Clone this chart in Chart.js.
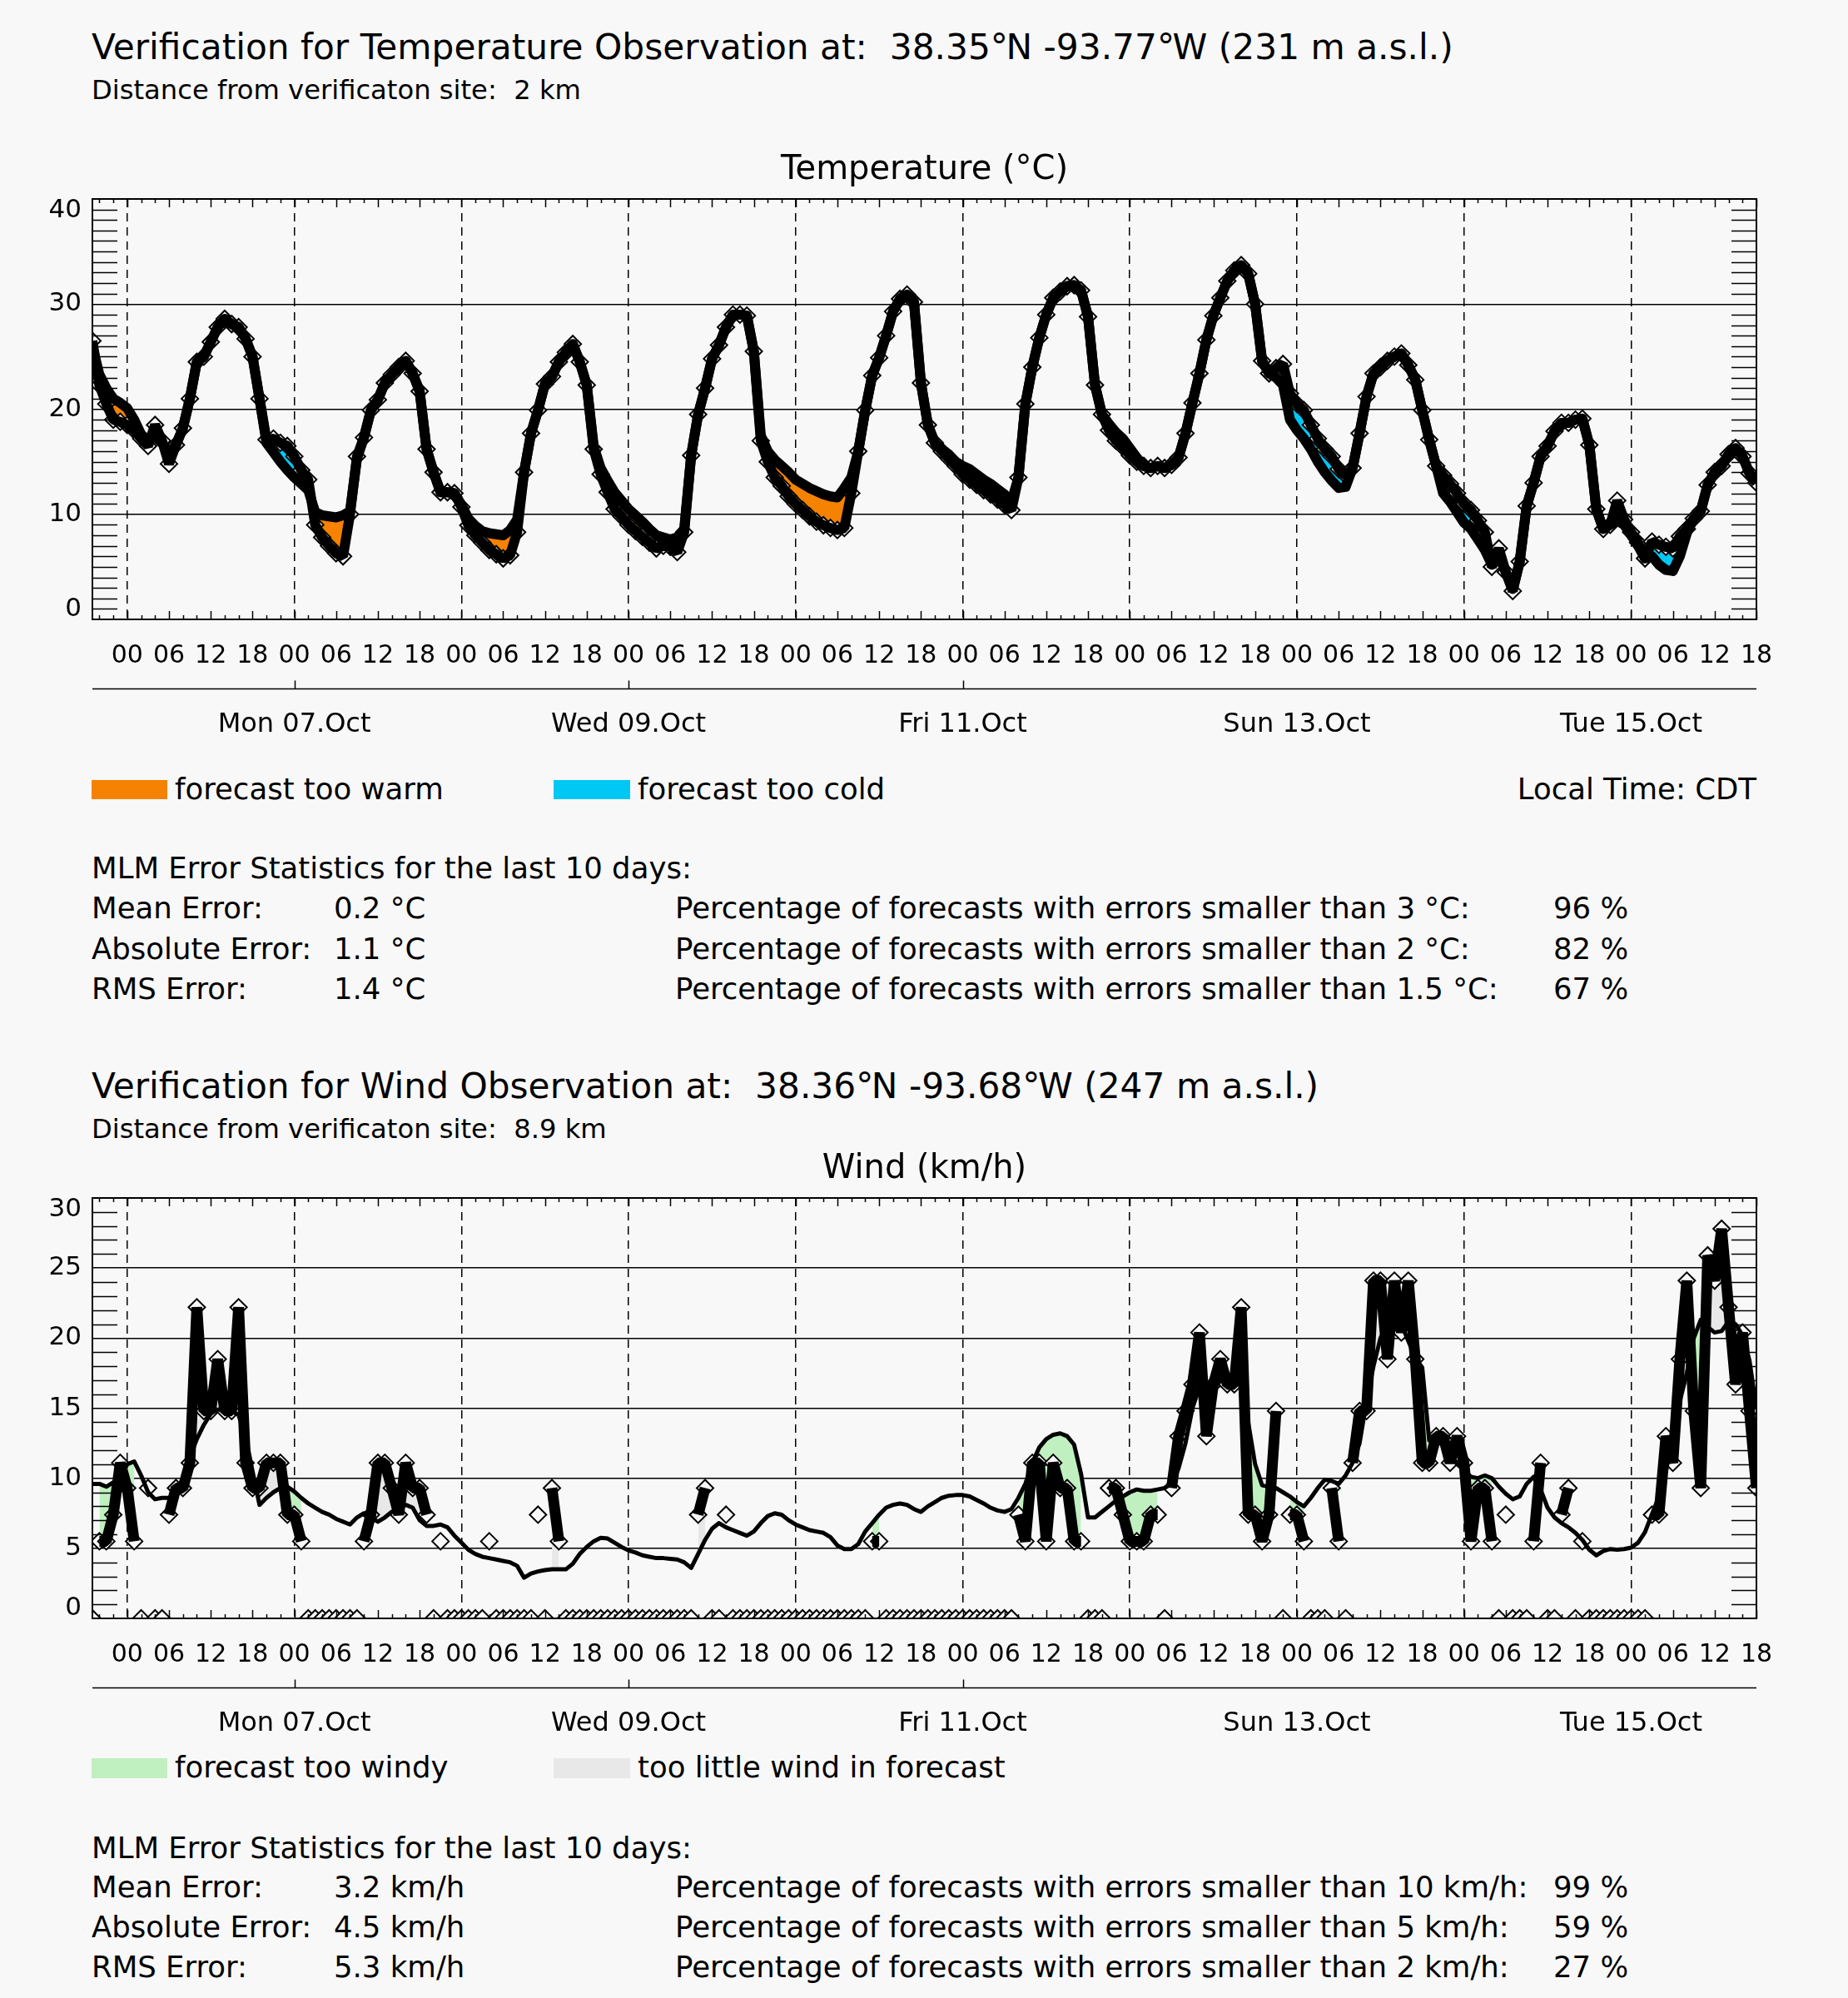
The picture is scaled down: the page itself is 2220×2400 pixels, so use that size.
<!DOCTYPE html>
<html>
<head>
<meta charset="utf-8">
<script src="https://cdn.jsdelivr.net/npm/chart.js@4.4.1/dist/chart.umd.min.js"></script>
<style>
  html, body { margin: 0; padding: 0; background: #f8f8f8; }
  body { width: 2220px; height: 2400px; position: relative; overflow: hidden;
         font-family: 'DejaVu Sans', sans-serif; color: #000; }
  .t { position: absolute; white-space: pre; line-height: 1; }
  .sw { position: absolute; }
  .deg { letter-spacing: -2.5px; }
  canvas { position: absolute; left: 0; }
</style>
</head>
<body>

<div class="t" style="left:110px;top:36px;font-size:42.3px">Verification for Temperature Observation at:  38.35<span class="deg">°</span>N -93.77<span class="deg">°</span>W (231 m a.s.l.)</div>
<div class="t" style="left:110px;top:92px;font-size:32.2px">Distance from verificaton site:  2 km</div>

<canvas id="tempChart" width="2220" height="720" style="top:180px;width:2220px;height:720px"></canvas>

<div class="sw" style="left:110px;top:937px;width:91px;height:23px;background:#f58200"></div>
<div class="t" style="left:210px;top:930px;font-size:35.5px">forecast too warm</div>
<div class="sw" style="left:665px;top:937px;width:92px;height:23px;background:#00c8f5"></div>
<div class="t" style="left:766px;top:930px;font-size:35.5px">forecast too cold</div>
<div class="t" style="right:110px;top:930px;font-size:35.5px">Local Time: CDT</div>

<div class="t" style="left:110px;top:1025px;font-size:35.5px">MLM Error Statistics for the last 10 days:</div>
<div class="t" style="left:110px;top:1073px;font-size:35.5px">Mean Error:</div>
<div class="t" style="left:401px;top:1073px;font-size:35.5px">0.2 °C</div>
<div class="t" style="left:811px;top:1073px;font-size:35.5px">Percentage of forecasts with errors smaller than 3 °C:</div>
<div class="t" style="left:1866px;top:1073px;font-size:35.5px">96 %</div>
<div class="t" style="left:110px;top:1122px;font-size:35.5px">Absolute Error:</div>
<div class="t" style="left:401px;top:1122px;font-size:35.5px">1.1 °C</div>
<div class="t" style="left:811px;top:1122px;font-size:35.5px">Percentage of forecasts with errors smaller than 2 °C:</div>
<div class="t" style="left:1866px;top:1122px;font-size:35.5px">82 %</div>
<div class="t" style="left:110px;top:1170px;font-size:35.5px">RMS Error:</div>
<div class="t" style="left:401px;top:1170px;font-size:35.5px">1.4 °C</div>
<div class="t" style="left:811px;top:1170px;font-size:35.5px">Percentage of forecasts with errors smaller than 1.5 °C:</div>
<div class="t" style="left:1866px;top:1170px;font-size:35.5px">67 %</div>

<div class="t" style="left:110px;top:1284px;font-size:42.3px">Verification for Wind Observation at:  38.36<span class="deg">°</span>N -93.68<span class="deg">°</span>W (247 m a.s.l.)</div>
<div class="t" style="left:110px;top:1340px;font-size:32.2px">Distance from verificaton site:  8.9 km</div>

<canvas id="windChart" width="2220" height="720" style="top:1380px;width:2220px;height:720px"></canvas>

<div class="sw" style="left:110px;top:2112px;width:91px;height:24px;background:#c0f0c0"></div>
<div class="t" style="left:210px;top:2105px;font-size:35.5px">forecast too windy</div>
<div class="sw" style="left:665px;top:2112px;width:92px;height:24px;background:#e8e8e8"></div>
<div class="t" style="left:766px;top:2105px;font-size:35.5px">too little wind in forecast</div>

<div class="t" style="left:110px;top:2202px;font-size:35.5px">MLM Error Statistics for the last 10 days:</div>
<div class="t" style="left:110px;top:2249px;font-size:35.5px">Mean Error:</div>
<div class="t" style="left:401px;top:2249px;font-size:35.5px">3.2 km/h</div>
<div class="t" style="left:811px;top:2249px;font-size:35.5px">Percentage of forecasts with errors smaller than 10 km/h:</div>
<div class="t" style="left:1866px;top:2249px;font-size:35.5px">99 %</div>
<div class="t" style="left:110px;top:2297px;font-size:35.5px">Absolute Error:</div>
<div class="t" style="left:401px;top:2297px;font-size:35.5px">4.5 km/h</div>
<div class="t" style="left:811px;top:2297px;font-size:35.5px">Percentage of forecasts with errors smaller than 5 km/h:</div>
<div class="t" style="left:1866px;top:2297px;font-size:35.5px">59 %</div>
<div class="t" style="left:110px;top:2345px;font-size:35.5px">RMS Error:</div>
<div class="t" style="left:401px;top:2345px;font-size:35.5px">5.3 km/h</div>
<div class="t" style="left:811px;top:2345px;font-size:35.5px">Percentage of forecasts with errors smaller than 2 km/h:</div>
<div class="t" style="left:1866px;top:2345px;font-size:35.5px">27 %</div>

<script>
// hours relative to Sun 06.Oct 00:00 local time, one value per hour from 19:00 on the 5th
const hours = Array.from({ length: 240 }, (_, i) => i - 5);

const hourTicks = [0, 6, 12, 18, 24, 30, 36, 42, 48, 54, 60, 66, 72, 78, 84, 90, 96, 102, 108, 114,
  120, 126, 132, 138, 144, 150, 156, 162, 168, 174, 180, 186, 192, 198, 204, 210, 216, 222, 228, 234];
const dayLabels = ['Mon 07.Oct', 'Wed 09.Oct', 'Fri 11.Oct', 'Sun 13.Oct', 'Tue 15.Oct'];
const dayLabelHours = [24, 72, 120, 168, 216];
const dayTickHours = [24, 72, 120];

// TEMPERATURE (°C)
const tempObs = [
  26.5, 22.3, 20.5, 19.0, 18.8,
  18.5, 18.0, 17.2, 16.5, 18.5, 17.0, 14.8, 16.6, 18.2, 21.0, 24.5, 25.0, 26.4, 27.8, 28.6, 28.1, 27.8, 26.7, 25.0, 21.0, 17.1, 17.2, 16.8, 16.5,
  15.5, 14.2, 13.3, 9.0, 7.8, 7.0, 6.3, 6.0, 10.0, 15.5, 17.3, 19.9, 20.9, 22.5, 23.3, 24.0, 24.6, 23.4, 21.7, 16.2, 14.0, 12.1, 12.1, 12.0,
  10.7, 8.95, 8.0, 7.3, 6.6, 6.2, 5.8, 6.1, 8.3, 14.0, 17.7, 19.9, 22.4, 23.1, 24.5, 25.4, 26.2, 24.5, 22.3, 16.2, 13.8, 12.1, 10.5, 9.8,
  9.0, 8.4, 7.85, 7.3, 6.75, 7.0, 6.9, 6.4, 8.3, 15.6, 19.5, 22.0, 24.8, 26.1, 27.8, 29.0, 29.0, 28.9, 25.5, 17.0, 15.0, 13.5, 12.7, 11.7,
  11.0, 10.4, 9.8, 9.3, 8.95, 8.7, 8.5, 8.7, 12.0, 16.0, 19.9, 23.2, 24.9, 27.0, 29.3, 30.5, 30.9, 30.2, 22.5, 18.5, 16.8, 16.0, 15.3, 14.6,
  13.8, 13.3, 12.8, 12.3, 11.9, 11.4, 10.9, 10.4, 13.5, 20.5, 24.0, 26.8, 29.0, 30.6, 31.2, 31.7, 31.8, 31.3, 28.8, 22.3, 19.5, 18.0, 17.0, 16.4,
  15.6, 15.0, 14.6, 14.4, 14.6, 14.4, 14.7, 15.4, 17.7, 20.6, 23.4, 26.6, 28.9, 30.6, 32.2, 33.2, 33.7, 32.9, 30.0, 24.6, 23.4, 23.9, 24.3, 21.5,
  20.5, 19.9, 18.5, 17.2, 16.2, 15.5, 14.3, 13.7, 14.4, 17.7, 21.2, 23.4, 24.0, 24.6, 25.0, 25.3, 24.2, 22.8, 19.9, 17.1, 14.6, 13.7, 12.9, 12.0,
  11.0, 10.4, 9.4, 8.3, 5.0, 6.75, 4.5, 2.7, 5.5, 10.8, 13.0, 15.5, 16.5, 17.9, 18.7, 18.7, 19.0, 19.1, 16.6, 10.5, 8.6, 9.0, 11.3, 9.5,
  8.3, 7.3, 5.8, 7.4, 7.1, 6.9, 6.75, 7.9, 8.6, 9.6, 10.3, 12.8, 14.0, 14.6, 15.7, 16.3, 15.5, 13.9, 13.0
];
const tempFc = [
  26.0, 23.3, 22.0, 21.0, 20.6,
  20.1, 19.0, 17.6, 17.0, 17.8, 16.8, 15.8, 16.6, 18.2, 21.0, 24.5, 25.0, 26.4, 27.8, 28.6, 28.1, 27.8, 26.7, 25.0, 21.0, 16.8, 15.9, 15.0, 14.2,
  13.5, 12.9, 12.3, 10.2, 9.9, 9.8, 9.7, 9.9, 10.3, 15.3, 17.3, 19.9, 20.9, 22.5, 23.3, 24.0, 24.6, 23.4, 21.7, 16.2, 14.0, 12.1, 12.1, 12.0,
  10.9, 9.6, 8.9, 8.4, 8.2, 8.1, 8.0, 8.5, 9.5, 14.0, 17.7, 19.9, 22.4, 23.1, 24.5, 25.4, 26.2, 24.5, 22.3, 16.5, 14.4, 13.2, 12.1, 11.3,
  10.5, 9.9, 9.3, 8.6, 8.0, 7.8, 7.6, 7.8, 8.6, 15.6, 19.5, 22.0, 24.8, 26.1, 27.8, 29.0, 29.0, 28.9, 25.5, 17.5, 16.0, 15.2, 14.6, 14.0,
  13.3, 12.9, 12.5, 12.2, 11.9, 11.7, 11.6, 12.5, 13.5, 16.0, 19.9, 23.2, 24.9, 27.0, 29.3, 30.5, 30.9, 30.2, 22.5, 18.5, 16.8, 16.2, 15.7, 15.0,
  14.6, 14.3, 13.8, 13.3, 12.9, 12.4, 11.9, 11.2, 13.5, 20.5, 24.0, 26.8, 29.0, 30.6, 31.2, 31.7, 31.8, 31.3, 28.8, 22.3, 19.5, 18.6, 17.8, 17.2,
  16.3, 15.4, 14.6, 14.4, 14.6, 14.4, 14.7, 15.4, 17.7, 20.6, 23.4, 26.6, 28.9, 30.6, 32.2, 33.2, 33.7, 32.9, 30.0, 24.6, 23.4, 23.0, 22.3, 19.0,
  18.0, 17.2, 16.2, 15.0, 14.0, 13.2, 12.5, 12.6, 14.4, 17.7, 21.2, 23.4, 24.0, 24.6, 25.0, 25.3, 24.2, 22.8, 19.9, 17.1, 14.6, 12.0, 11.2, 10.2,
  9.2, 8.6, 7.6, 6.6, 5.2, 6.0, 4.5, 2.9, 5.5, 10.8, 13.0, 15.5, 16.5, 17.9, 18.7, 18.7, 19.0, 19.1, 16.6, 10.5, 8.6, 9.0, 9.4, 9.0,
  8.0, 7.0, 5.8, 6.0, 5.2, 4.7, 4.6, 6.0, 8.2, 9.6, 10.3, 12.8, 14.0, 14.6, 15.7, 16.3, 15.5, 13.9, 13.0
];

// WIND (km/h), 0 = calm report
const windObs = [
  0, 5.5, 5.5, 7.4, 11.1,
  9.3, 5.5, 0, 9.3, 0, 0, 7.4, 9.3, 9.3, 11.1, 22.2, 14.8, 14.8, 18.5, 14.8, 14.8, 22.2, 11.1, 9.3, 9.3, 11.1, 11.1, 11.1, 7.4,
  7.4, 5.5, 0, 0, 0, 0, 0, 0, 0, 0, 5.5, 7.4, 11.1, 11.1, 9.3, 7.4, 11.1, 9.3, 9.3, 7.4, 0, 5.5, 0, 0,
  0, 0, 0, 0, 5.5, 0, 0, 0, 0, 0, 0, 7.4, 0, 9.3, 5.5, 0, 0, 0, 0, 0, 0, 0, 0, 0,
  0, 0, 0, 0, 0, 0, 0, 0, 0, 0, 7.4, 9.3, 0, 0, 7.4, 0, 0, 0, 0, 0, 0, 0, 0, 0,
  0, 0, 0, 0, 0, 0, 0, 0, 0, 0, 0, 5.5, 5.5, 0, 0, 0, 0, 0, 0, 0, 0, 0, 0, 0,
  0, 0, 0, 0, 0, 0, 0, 0, 7.4, 5.5, 11.1, 11.1, 5.5, 11.1, 9.3, 9.3, 5.5, 5.5, 0, 0, 0, 9.3, 9.3, 7.4,
  5.5, 5.5, 5.5, 7.4, 7.4, 0, 9.3, 13.0, 14.8, 16.7, 20.4, 13.0, 16.7, 18.5, 16.7, 16.7, 22.2, 7.4, 7.4, 5.5, 7.4, 14.8, 0, 7.4,
  7.4, 5.5, 0, 0, 0, 9.3, 5.5, 0, 11.1, 14.8, 14.8, 24.1, 24.1, 18.5, 24.1, 20.4, 24.1, 18.5, 11.1, 11.1, 13.0, 13.0, 11.1, 13.0,
  11.1, 5.5, 9.3, 9.3, 5.5, 0, 7.4, 0, 0, 0, 5.5, 11.1, 0, 0, 7.4, 9.3, 0, 5.5, 0, 0, 0, 0, 0, 0,
  0, 0, 0, 7.4, 7.4, 13.0, 11.1, 18.5, 24.1, 14.8, 9.3, 25.9, 24.1, 27.8, 22.2, 16.7, 20.4, 14.8, 9.3
];
const windFc = [
  9.6, 9.6, 9.4, 9.7, 9.9,
  11.0, 11.2, 10.2, 9.0, 8.5, 8.6, 8.6, 8.9, 10.0, 11.5, 12.8, 13.8, 14.6, 14.9, 14.9, 14.8, 14.5, 13.0, 10.5, 8.1, 8.6, 9.0, 9.3, 9.4,
  9.05, 8.6, 8.2, 7.9, 7.6, 7.4, 7.1, 6.9, 6.7, 7.2, 7.5, 7.2, 6.9, 7.2, 7.6, 7.9, 8.1, 7.9, 7.0, 6.6, 6.6, 6.7, 6.5, 5.9,
  5.4, 4.9, 4.6, 4.4, 4.3, 4.2, 4.1, 4.0, 3.75, 2.9, 3.2, 3.35, 3.45, 3.5, 3.5, 3.5, 3.9, 4.6, 5.1, 5.5, 5.75, 5.7, 5.4, 5.1,
  4.85, 4.7, 4.5, 4.4, 4.3, 4.3, 4.25, 4.2, 4.0, 3.6, 4.6, 5.6, 6.4, 6.8, 6.5, 6.3, 6.1, 5.9, 6.2, 6.8, 7.3, 7.5, 7.4, 7.0,
  6.7, 6.5, 6.3, 6.2, 6.1, 5.8, 5.2, 4.95, 4.95, 5.3, 6.2, 6.8, 7.4, 7.9, 8.1, 8.2, 8.1, 7.8, 7.6, 8.0, 8.3, 8.6, 8.75, 8.8,
  8.8, 8.7, 8.45, 8.2, 7.9, 7.7, 7.6, 7.8, 8.6, 9.6, 11.1, 12.2, 12.8, 13.1, 13.2, 13.0, 12.4, 10.3, 7.2, 7.2, 7.6, 8.0, 8.4, 8.7,
  9.0, 9.2, 9.1, 9.1, 9.2, 9.3, 9.6, 10.7, 12.5, 15.0, 16.5, 16.7, 16.8, 17.0, 17.1, 17.2, 16.5, 14.0, 11.0, 9.5, 9.4, 9.3, 9.0, 8.7,
  8.3, 8.0, 8.6, 9.3, 9.9, 9.8, 9.6, 10.2, 11.1, 12.5, 15.5, 18.0, 20.0, 21.0, 21.3, 21.0, 19.8, 18.6, 17.9, 12.7, 12.4, 12.6, 11.9, 11.0,
  10.6, 10.1, 10.0, 10.2, 10.0, 9.4, 8.9, 8.5, 8.7, 9.6, 10.1, 9.2, 7.9, 7.2, 6.8, 6.5, 6.1, 5.6, 4.9, 4.5, 4.8, 4.95, 4.9, 4.95,
  5.05, 5.4, 6.15, 7.45, 8.7, 10.5, 13.0, 15.5, 17.5, 20.0, 21.3, 20.8, 20.4, 20.5, 21.2, 21.0, 20.2, 18.4, 15.0
];

const BG = '#f8f8f8';
const ORANGE = '#f58200';
const BLUE = '#00c8f5';
const GREEN = '#c0f0c0';
const GRAY = '#e8e8e8';

Chart.defaults.font.family = "'DejaVu Sans'";
Chart.defaults.color = '#000';

const pts = (ys) => hours.map((h, i) => ({ x: h, y: ys[i] }));
const pad2 = (v) => String(((v % 24) + 24) % 24).padStart(2, '0');

// frame, inner tick marks, y labels kept inside the frame, day axis under the hour labels
const framePlugin = {
  id: 'frame',
  afterDraw(chart, args, opts) {
    const { ctx, chartArea: a, scales: { x, y } } = chart;
    ctx.save();
    ctx.strokeStyle = '#000';
    ctx.lineWidth = 1.5;
    ctx.beginPath();
    for (let v = y.min + 1; v < y.max; v++) {
      if (v % opts.major === 0) continue;
      const py = Math.round(y.getPixelForValue(v)) + 0.5;
      ctx.moveTo(a.left, py); ctx.lineTo(a.left + 30, py);
      ctx.moveTo(a.right, py); ctx.lineTo(a.right - 30, py);
    }
    for (let h = Math.ceil(x.min / 2) * 2; h <= x.max; h += 2) {
      const px = Math.round(x.getPixelForValue(h)) + 0.5;
      const len = h % 6 === 0 ? 10 : 5;
      ctx.moveTo(px, a.top); ctx.lineTo(px, a.top + len);
      ctx.moveTo(px, a.bottom); ctx.lineTo(px, a.bottom - len);
    }
    ctx.stroke();
    ctx.lineWidth = 2;
    ctx.strokeRect(a.left, a.top, a.right - a.left, a.bottom - a.top);

    ctx.fillStyle = '#000';
    ctx.font = "31px 'DejaVu Sans'";
    ctx.textAlign = 'right';
    ctx.textBaseline = 'middle';
    y.ticks.forEach(t => {
      let py = y.getPixelForValue(t.value);
      if (t.value === y.max) py += 14;
      if (t.value === y.min) py -= 12;
      ctx.fillText(String(t.value), a.left - 13, py);
    });

    const ly = Math.round(a.bottom + 82.5) + 0.5;
    ctx.beginPath();
    ctx.moveTo(a.left, ly); ctx.lineTo(a.right, ly);
    dayTickHours.forEach(h => {
      const px = Math.round(x.getPixelForValue(h)) + 0.5;
      ctx.moveTo(px, ly); ctx.lineTo(px, ly - 10);
    });
    ctx.lineWidth = 1.5;
    ctx.stroke();
    ctx.font = "32px 'DejaVu Sans'";
    ctx.textAlign = 'center';
    dayLabels.forEach((s, i) => ctx.fillText(s, x.getPixelForValue(dayLabelHours[i]), a.bottom + 127));
    ctx.restore();
  }
};

function makeOptions(title, yMax, yStep) {
  return {
    responsive: false,
    animation: false,
    events: [],
    layout: { padding: { left: 0, right: 110, top: 0, bottom: 0 } },
    plugins: {
      legend: { display: false },
      tooltip: { enabled: false },
      filler: { drawTime: 'beforeDatasetDraw' },
      title: {
        display: true, text: title, fullSize: false, color: '#000',
        font: { size: 40, weight: 'normal' },
        padding: { top: 0.5, bottom: 10.5 }
      },
      frame: { major: yStep }
    },
    scales: {
      x: {
        type: 'linear', min: -5, max: 234,
        afterBuildTicks: (s) => { s.ticks = hourTicks.map(v => ({ value: v })); },
        afterFit: (s) => { s.height = 156; },
        ticks: { callback: (v) => pad2(v), autoSkip: false, maxRotation: 0, minRotation: 0,
                 padding: 26, font: { size: 30 }, color: '#000' },
        grid: {
          drawTicks: false, lineWidth: 1.5,
          color: (c) => (c.tick && c.tick.value % 24 === 0) ? '#000' : 'rgba(0,0,0,0)'
        },
        border: { display: false, dash: [10, 7] }
      },
      y: {
        min: 0, max: yMax,
        afterFit: (s) => { s.width = 111; },
        ticks: { stepSize: yStep, display: false },
        grid: { drawTicks: false, color: '#000', lineWidth: 1.5 },
        border: { display: false }
      }
    }
  };
}

// drawing order (bottom to top): error fill, obs diamonds, obs line, forecast line
function verificationDatasets(obsLine, obsPoints, fc, obsWidth, fcWidth, above, below) {
  return [{
    label: 'observation', order: 1,
    data: obsLine,
    borderColor: '#000', borderWidth: obsWidth, borderJoinStyle: 'bevel',
    pointRadius: 0, fill: false, spanGaps: false
  }, {
    label: 'forecast error', order: 3,
    data: fc,
    showLine: false, pointRadius: 0,
    fill: { target: 0, above: above, below: below }
  }, {
    label: 'observation points', order: 2,
    data: obsPoints,
    showLine: false,
    pointStyle: 'rectRot', pointRadius: 10, pointBorderWidth: 2,
    pointBorderColor: '#000', pointBackgroundColor: BG
  }, {
    label: 'MLM forecast', order: 0,
    data: fc,
    borderColor: '#000', borderWidth: fcWidth, borderJoinStyle: 'round',
    pointRadius: 0, fill: false
  }];
}

new Chart(document.getElementById('tempChart'), {
  type: 'line',
  data: { datasets: verificationDatasets(pts(tempObs), pts(tempObs), pts(tempFc), 12, 12, ORANGE, BLUE) },
  options: makeOptions('Temperature (°C)', 40, 10),
  plugins: [framePlugin]
});

// wind: calm reports break the obs line but keep their diamond
new Chart(document.getElementById('windChart'), {
  type: 'line',
  data: {
    datasets: verificationDatasets(
      hours.map((h, i) => ({ x: h, y: windObs[i] > 0 ? windObs[i] : null })),
      pts(windObs), pts(windFc), 13, 5, GREEN, GRAY)
  },
  options: makeOptions('Wind (km/h)', 30, 5),
  plugins: [framePlugin]
});
</script>
</body>
</html>
